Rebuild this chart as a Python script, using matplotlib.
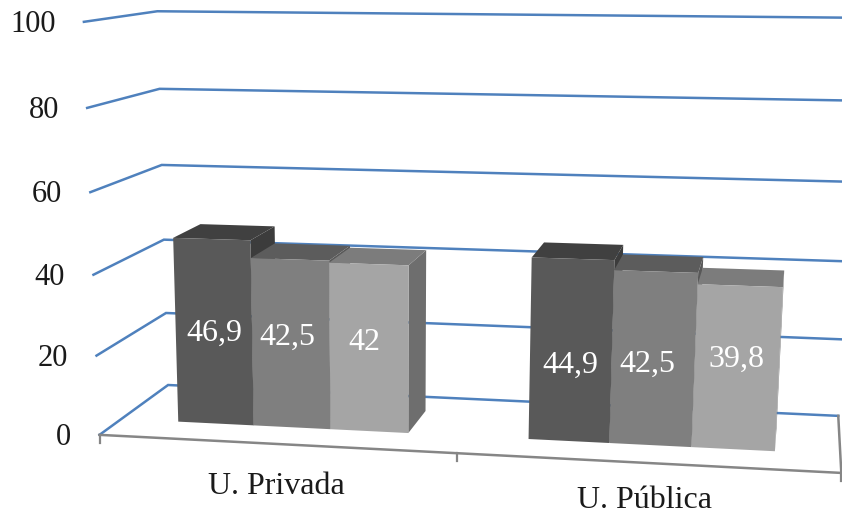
import numpy as np
import matplotlib
matplotlib.use("Agg")
import matplotlib.pyplot as plt
from matplotlib.patches import Polygon

plt.rcParams['font.family'] = ['Liberation Serif', 'DejaVu Serif']

categories = ["U. Privada", "U. Pública"]
serie_a = [46.9, 44.9]
serie_b = [42.5, 42.5]
serie_c = [42.0, 39.8]
ticks = [0, 20, 40, 60, 80, 100]
label_a = ["46,9", "44,9"]
label_b = ["42,5", "42,5"]
label_c = ["42", "39,8"]

# camera calibration: (cat, value, depth) -> pixel
_cal = [
    ((0, 0, 0), (100, 436)), ((0, 0, 1), (168, 385)), ((2, 0, 1), (838, 416)), ((2, 0, 0), (841, 473)),
    ((0, 100, 0), (84, 22)), ((0, 100, 1), (157, 12)), ((2, 100, 1), (861, 18.2)),
    ((0, 40, 0), (93.5, 274)), ((0, 40, 1), (164, 239)), ((2, 60, 1), (852, 181.2)),
    ((0, 60, 0), (90, 191.5)), ((0, 20, 1), (166, 313)),
]
_A = []
for (X, Y, Z), (u, v) in _cal:
    X_ = [X, Y / 100, Z, 1]
    _A.append(X_ + [0] * 4 + [-u * c for c in X_])
    _A.append([0] * 4 + X_ + [-v * c for c in X_])
_P = np.linalg.svd(np.array(_A, float))[2][-1].reshape(3, 4)


def proj(X, Y, Z):
    h = _P @ np.array([X, Y / 100, Z, 1.0])
    return h[0] / h[2], h[1] / h[2]


fig = plt.figure(figsize=(8.42, 5.17), dpi=100)
ax = fig.add_axes([0, 0, 1, 1])
ax.set_xlim(0, 842)
ax.set_ylim(517, 0)
ax.axis("off")

BLUE = "#4f81bd"
GRAY = "#868686"
for t in ticks:
    pts = [proj(0, t, 0), proj(0, t, 1), proj(2, t, 1)]
    ax.plot(*zip(*pts), color=BLUE, lw=1.8, solid_joinstyle="miter", zorder=1)
    x, y = proj(0, t, 0)
    ax.annotate(str(t), (x, y), xytext=(-20 * 0.72 - 6, -2), textcoords="offset points",
                ha="right", va="center", fontsize=22, color="#1a1a1a")

ax.plot(*zip(proj(0, 0, 0), proj(2, 0, 0), proj(2, 0, 1)), color=GRAY, lw=1.8, zorder=2)
for X in (0, 1, 2):
    x, y = proj(X, 0, 0)
    ax.plot([x, x], [y, y + 8], color=GRAY, lw=1.6, zorder=2)

bw = 0.221
z0, z1 = 0.30, 0.72
start = 0.176
group_shift = [-0.008, -0.010]
colors = [("#595959", "#404040", "#3c3c3c"),
          ("#7f7f7f", "#5c5c5c", "#585858"),
          ("#a5a5a5", "#7c7c7c", "#6e6e6e")]
series = [serie_a, serie_b, serie_c]
labels = [label_a, label_b, label_c]
lab_off = [[(1, 0.5), (0, 14.5)], [(-3.5, -6.5), (-6, 5.5)], [(-5, -5.5), (0, -8.5)]]

for g in range(2):
    for s in range(3):
        v = series[s][g]
        a = g + group_shift[g] + start + s * bw
        b = a + bw
        fc, tc, sc = colors[s]
        front = [proj(a, 0, z0), proj(b, 0, z0), proj(b, v, z0), proj(a, v, z0)]
        top = [proj(a, v, z0), proj(b, v, z0), proj(b, v, z1), proj(a, v, z1)]
        side = [proj(b, 0, z0), proj(b, 0, z1), proj(b, v, z1), proj(b, v, z0)]
        zo = 3 + s
        ax.add_patch(Polygon(side, fc=sc, ec="none", zorder=zo))
        ax.add_patch(Polygon(top, fc=tc, ec="none", zorder=zo))
        ax.add_patch(Polygon(front, fc=fc, ec="none", zorder=zo))
        cx, cy = proj((a + b) / 2, v / 2, z0)
        dx, dy = lab_off[s][g]
        ax.annotate(labels[s][g], (cx, cy), xytext=(dx, -dy), textcoords="offset pixels",
                    ha="center", va="center", fontsize=23, color="white", zorder=10)

cat_off = [(1, -43), (-1, -38)]
for g, name in enumerate(categories):
    x, y = proj(g + 0.5, 0, 0)
    ax.annotate(name, (x, y), xytext=cat_off[g], textcoords="offset pixels",
                ha="center", va="center", fontsize=23, color="#1a1a1a")

fig.savefig("out.png", dpi=100)
